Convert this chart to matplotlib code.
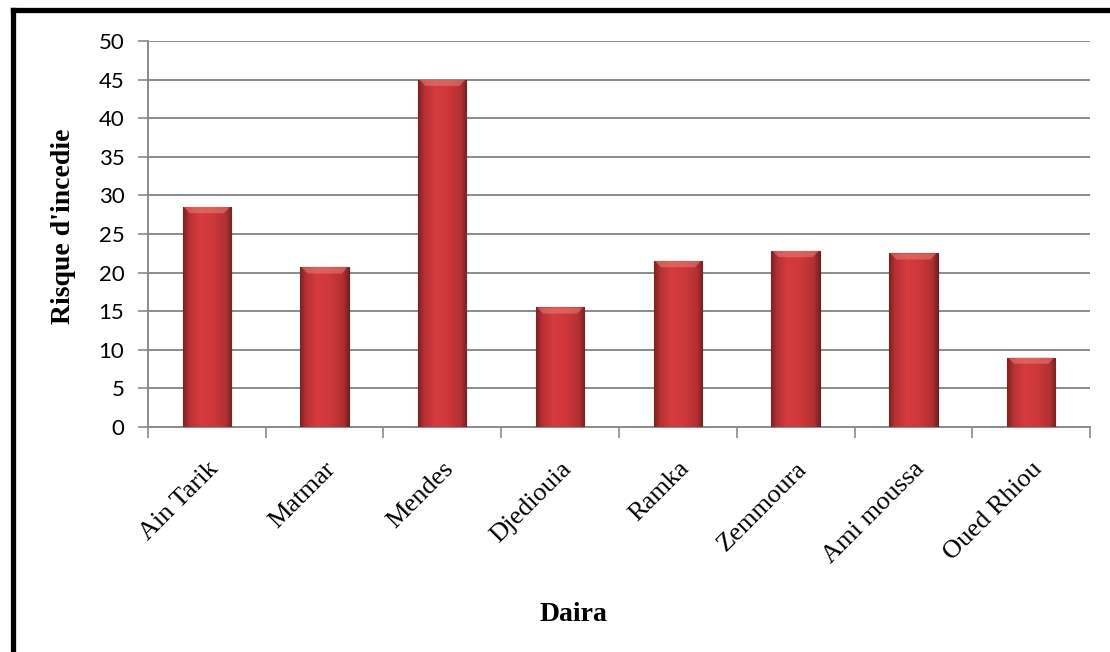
import numpy as np
import matplotlib.pyplot as plt
from matplotlib.colors import LinearSegmentedColormap
from matplotlib.lines import Line2D

dairas = ["Ain Tarik", "Matmar", "Mendes", "Djediouia", "Ramka",
          "Zemmoura", "Ami moussa", "Oued Rhiou"]
risque = [28.5, 20.7, 45.0, 15.5, 21.5, 22.8, 22.5, 9.0]
yticks = list(range(0, 51, 5))

fig = plt.figure(figsize=(11.1, 6.52), dpi=100)
ax = fig.add_axes([0.1333, 0.345, 0.8487, 0.592])

x = np.arange(len(dairas))
bars = ax.bar(x, risque, width=0.41, color="#c9363a", edgecolor="#6b1c1c",
              linewidth=0.8, zorder=3)

# horizontal shading across each bar, darker only near the edges
shade = LinearSegmentedColormap.from_list(
    "shade", [(0.0, "#7a2222"), (0.12, "#b53034"), (0.35, "#d63b3e"),
              (0.6, "#cf383b"), (0.88, "#b23033"), (1.0, "#772121")])
grad = np.linspace(0, 1, 200).reshape(1, -1)
for b in bars:
    x0, w, h = b.get_x(), b.get_width(), b.get_height()
    im = ax.imshow(grad, cmap=shade, aspect="auto", extent=(x0, x0 + w, 0, h),
                   zorder=3.5, interpolation="bicubic")
    im.set_clip_path(b)
    # light bevel along the top
    bev = h - 0.8
    ax.fill([x0 + 0.01, x0 + w - 0.01, x0 + w - 0.06, x0 + 0.06],
            [h, h, bev, bev], color="#ea8078", alpha=0.55, zorder=4, lw=0)

ax.set_xlim(-0.5, len(dairas) - 0.5)
ax.set_ylim(0, 50)
ax.set_yticks(yticks)
ax.set_yticklabels([str(v) for v in yticks], fontsize=16, family="Lato")
ax.yaxis.grid(True, color="#8a8a8a", linewidth=1.4, zorder=0)
ax.set_axisbelow(True)

# category ticks sit between the bars
ax.set_xticks(np.arange(len(dairas) + 1) - 0.5, minor=False)
ax.set_xticklabels([])
ax.set_xticks(x, minor=True)
ax.set_xticklabels(dairas, minor=True, rotation=45, ha="right",
                   rotation_mode="anchor", fontsize=19,
                   family="Liberation Serif")
ax.tick_params(axis="x", which="major", length=8, width=1.2, color="#8a8a8a")
ax.tick_params(axis="x", which="minor", length=0, pad=22)
ax.tick_params(axis="y", length=7, width=1.2, color="#8a8a8a", pad=10)

for side in ["top", "right"]:
    ax.spines[side].set_visible(False)
for side in ["left", "bottom"]:
    ax.spines[side].set_color("#8a8a8a")
    ax.spines[side].set_linewidth(1.4)

ax.set_ylabel("Risque d'incedie", fontsize=20, fontweight="bold",
              family="Liberation Serif")
ax.yaxis.set_label_coords(-0.076, 0.52)
fig.text(0.517, 0.057, "Daira", fontsize=20, fontweight="bold",
         family="Liberation Serif", ha="center", va="center")

# outer frame, only the top and left edges fall inside the image
fig.add_artist(Line2D([0.0115, 1.0], [0.984, 0.984], color="black",
                      linewidth=3.8, transform=fig.transFigure))
fig.add_artist(Line2D([0.0115, 0.0115], [0.0, 0.984], color="black",
                      linewidth=3.8, transform=fig.transFigure,
                      solid_capstyle="projecting"))

fig.savefig("out.png", dpi=100)
